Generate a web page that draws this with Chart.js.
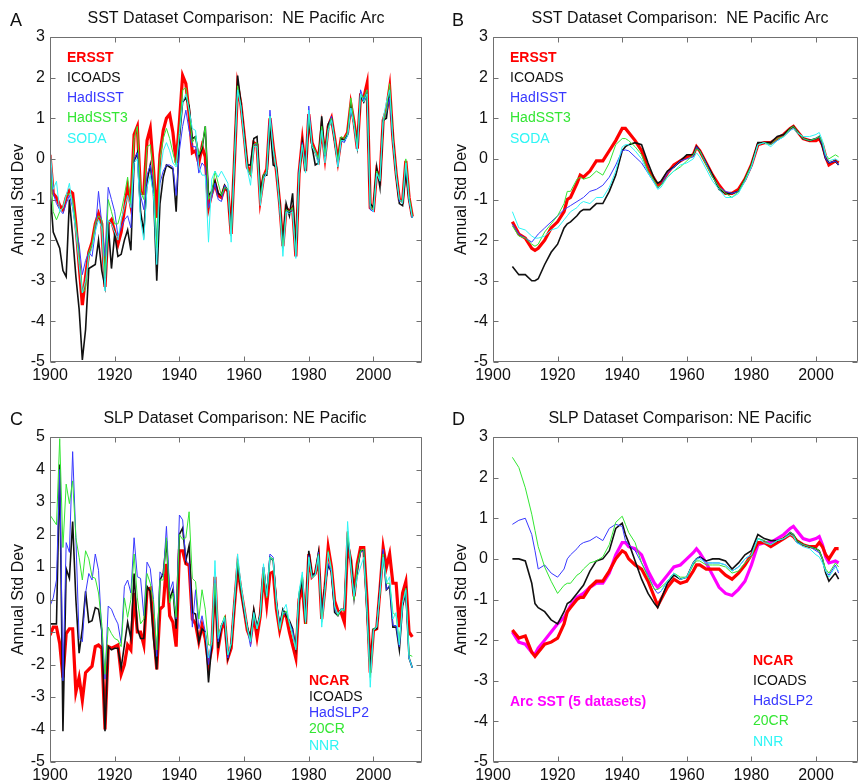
<!DOCTYPE html>
<html>
<head>
<meta charset="utf-8">
<script src="https://cdn.jsdelivr.net/npm/chart.js@4.4.1/dist/chart.umd.min.js"></script>
<style>
  html, body { margin: 0; padding: 0; background: #fff; }
  body { width: 859px; height: 783px; overflow: hidden; position: relative; }
  canvas { position: absolute; }
</style>
</head>
<body>
<canvas id="panelA" width="430" height="390" style="left:0;top:0"></canvas>
<canvas id="panelB" width="429" height="390" style="left:430px;top:0"></canvas>
<canvas id="panelC" width="430" height="393" style="left:0;top:390px"></canvas>
<canvas id="panelD" width="429" height="393" style="left:430px;top:390px"></canvas>
<script>
// tick labels
var xTickYears = [1900, 1920, 1940, 1960, 1980, 2000];

// annual years 1900-2012
var years = [];
for (var yr = 1900; yr <= 2012; yr++) years.push(yr);

// A: annual SST, NE Pacific arc
var ersst = [
  0.1,-0.85,-0.95,-1.15,-1.25,-0.95,-0.78,-0.85,-1.6,-2.6,
  -3.6,-2.9,-2.3,-2.05,-1.6,-1.35,-1.6,-3.15,-1.6,-1.5,
  -1.8,-2.1,-1.8,-1.25,-0.7,-1.15,0.6,0.8,-0.85,-0.85,
  0.45,0.75,-0.25,-1.45,0.1,0.7,1.0,1.1,0.65,-0.1,
  0.9,2.05,1.85,1.1,0.15,0.2,-0.1,0.3,0.05,-1.2,
  -0.85,-0.6,-0.9,-0.95,-0.7,-0.8,-1.85,-0.1,1.8,1.35,
  0.6,-0.2,-0.35,0.4,0.35,-1.0,-0.45,-0.25,1.0,0.3,
  -0.3,-1.1,-2.15,-1.2,-1.3,-1.2,-2.4,-0.35,0.45,-0.3,
  1.1,0.4,0.2,0.0,0.75,0.05,0.8,1.0,0.5,-0.05,
  0.5,0.5,0.65,1.35,0.9,0.25,1.55,1.5,1.85,-1.2,
  -1.25,-0.3,-0.5,0.95,1.2,1.75,0.5,-0.35,-1.0,-1.05,
  -0.05,-0.95,-1.42
];
var icoadsSst = [
  -0.75,-1.8,-2.0,-2.2,-2.75,-2.9,-1.0,-1.9,-2.9,-3.7,
  -4.95,-4.2,-2.7,-2.65,-2.6,-2.0,-2.75,-3.15,-1.6,-2.7,
  -1.85,-2.4,-2.35,-2.0,-1.75,-2.25,-0.05,0.15,-1.3,-1.8,
  -0.55,-0.15,-0.85,-3.0,-1.1,-0.45,-0.15,-0.2,-0.25,-1.3,
  0.5,1.4,1.5,1.3,0.5,0.55,0.05,0.25,0.8,-0.9,
  -0.8,-0.55,-0.85,-0.9,-0.65,-0.8,-1.8,-0.05,2.05,1.4,
  0.6,-0.15,-0.15,0.5,0.55,-0.85,-0.4,-0.4,0.9,-0.15,
  -0.2,-1.1,-2.1,-1.1,-1.4,-0.85,-2.35,-0.4,0.4,-0.3,
  1.05,0.3,-0.15,-0.1,1.05,0.0,0.85,1.0,0.45,-0.1,
  0.5,0.45,0.6,1.3,0.85,0.3,1.55,1.4,1.6,-1.1,
  -1.2,-0.2,-0.7,0.95,1.0,1.7,0.5,-0.4,-1.1,-1.15,
  -0.3,-1.0,-1.45
];
var hadisst = [
  -0.1,-0.85,-1.1,-1.25,-1.35,-1.1,-0.9,-1.2,-1.7,-2.1,
  -2.85,-2.5,-2.3,-2.4,-1.8,-0.8,-1.6,-2.4,-0.7,-1.0,
  -1.3,-1.9,-1.7,-1.5,-1.4,-1.7,0.0,0.15,-0.9,-1.25,
  -0.4,-0.15,-0.7,-2.0,-0.6,-0.3,-0.15,-0.15,-0.2,-0.9,
  0.2,0.8,1.2,0.7,0.3,0.3,-0.35,-0.1,-0.2,-1.2,
  -0.95,-0.6,-1.0,-1.05,-0.65,-0.8,-1.85,-0.05,1.75,1.3,
  0.55,-0.25,-0.4,0.35,0.35,-1.0,-0.5,-0.3,1.2,0.25,
  -0.25,-1.15,-2.2,-1.3,-1.3,-1.25,-2.4,-0.3,0.4,-0.25,
  1.3,0.35,0.2,-0.05,0.75,0.1,0.75,1.05,0.5,-0.15,
  0.45,0.4,0.6,1.25,0.85,0.25,1.7,1.45,1.7,-1.25,
  -1.3,-0.35,-0.5,0.9,1.15,1.5,0.45,-0.35,-1.05,-1.0,
  -0.1,-1.0,-1.45
];
var hadsst3 = [
  -0.1,-1.3,-1.5,-1.3,-1.2,-0.9,-0.85,-1.0,-1.6,-2.4,
  -3.3,-3.2,-2.3,-2.1,-1.6,-1.4,-1.5,-2.9,-1.0,-1.3,
  -1.6,-1.6,-1.3,-0.9,-0.45,-1.1,0.5,0.8,-0.8,-1.0,
  0.3,0.35,-0.3,-2.2,0.0,0.5,0.75,0.5,0.15,-0.15,
  0.7,1.7,1.75,1.2,0.4,0.55,0.1,0.3,0.8,-1.0,
  -0.85,-0.3,-0.6,-0.9,-0.7,-0.75,-1.9,0.0,1.8,1.3,
  0.55,-0.2,-0.4,0.35,0.4,-1.0,-0.4,-0.3,1.05,0.25,
  -0.25,-1.1,-2.2,-1.25,-1.3,-1.2,-2.35,-0.4,0.35,-0.25,
  1.1,0.35,0.2,0.0,0.8,0.1,0.75,1.0,0.5,-0.05,
  0.55,0.5,0.65,1.5,0.9,0.3,1.6,1.5,1.7,-1.15,
  -1.25,-0.3,-0.5,0.9,1.2,1.85,0.5,-0.35,-1.0,-1.05,
  0.0,-0.9,-1.4
];
var soda = [
  0.3,-0.75,-0.55,-1.3,-1.2,-0.9,-0.6,-1.2,-1.8,-2.6,
  -3.3,-3.0,-2.4,-2.2,-1.8,-1.5,-1.7,-3.25,-1.5,-1.6,
  -1.8,-2.0,-1.5,-1.2,-0.9,-1.2,-0.1,0.0,-1.5,-2.0,
  -0.7,-0.4,-0.9,-2.6,-0.4,0.2,0.4,0.2,-0.1,-0.2,
  0.6,1.4,1.6,1.2,0.75,0.7,-0.2,-0.4,-0.4,-2.05,
  -0.5,-0.3,-0.45,-0.3,-0.45,-0.6,-2.05,-0.1,1.7,1.3,
  0.5,-0.25,-0.65,0.3,0.3,-1.15,-0.5,-0.35,1.05,0.2,
  -0.3,-1.2,-2.4,-1.3,-1.35,-1.3,-2.45,-0.35,0.35,-0.35,
  1.2,0.3,0.15,-0.15,0.7,-0.1,0.7,0.95,0.45,-0.2,
  0.45,0.45,0.55,1.25,0.8,0.2,1.6,1.4,1.6,-1.2,
  -1.3,-0.35,-0.55,1.0,1.4,1.7,0.45,-0.4,-1.0,-1.1,
  -0.1,-1.0,-1.45
];

// B and D: smoothed series, read at these years
var smoothYears = [
  1906,1908,1910,1912,1913,1914,1916,1918,1920,1922,
  1923,1924,1926,1927,1928,1930,1932,1934,1936,1938,
  1940,1941,1942,1944,1946,1948,1950,1951,1952,1954,
  1956,1958,1960,1962,1963,1964,1966,1968,1970,1972,
  1974,1976,1978,1980,1982,1984,1986,1988,1990,1992,
  1993,1994,1996,1998,2000,2001,2002,2003,2004,2006,
  2007
];
var ersstSm = [
  -1.55,-1.85,-1.95,-2.2,-2.25,-2.2,-2.0,-1.7,-1.55,-1.3,
  -1.0,-0.95,-0.6,-0.4,-0.45,-0.3,-0.05,-0.05,0.2,0.45,
  0.75,0.75,0.65,0.45,0.2,-0.25,-0.5,-0.65,-0.6,-0.35,
  -0.15,-0.05,0.05,0.1,0.3,0.2,-0.1,-0.4,-0.65,-0.85,
  -0.85,-0.75,-0.5,-0.15,0.35,0.4,0.4,0.5,0.6,0.75,
  0.8,0.7,0.5,0.45,0.45,0.5,0.35,0.05,-0.15,-0.05,
  -0.1
];
var icoadsSstSm = [
  -2.65,-2.85,-2.85,-3.0,-3.0,-2.95,-2.6,-2.3,-2.1,-1.7,
  -1.6,-1.55,-1.4,-1.3,-1.25,-1.25,-1.1,-1.1,-0.8,-0.4,
  0.2,0.3,0.35,0.4,0.35,-0.1,-0.5,-0.6,-0.55,-0.3,
  -0.2,-0.05,0.1,0.1,0.3,0.2,-0.1,-0.4,-0.75,-0.85,
  -0.85,-0.8,-0.5,-0.15,0.4,0.4,0.4,0.55,0.6,0.75,
  0.8,0.7,0.5,0.45,0.5,0.55,0.3,0.0,-0.1,-0.05,
  -0.15
];
var hadisstSm = [
  -1.6,-1.85,-1.95,-2.05,-1.95,-1.85,-1.7,-1.55,-1.4,-1.25,
  -1.2,-1.15,-1.05,-1.0,-0.95,-0.8,-0.75,-0.65,-0.45,-0.15,
  0.2,0.22,0.2,0.05,-0.1,-0.35,-0.6,-0.72,-0.65,-0.35,
  -0.2,-0.05,0.0,0.05,0.3,0.2,-0.1,-0.45,-0.7,-0.8,
  -0.85,-0.8,-0.55,-0.2,0.35,0.4,0.35,0.45,0.55,0.7,
  0.75,0.7,0.5,0.45,0.5,0.55,0.35,0.0,-0.1,-0.05,
  -0.15
];
var hadsst3Sm = [
  -1.65,-1.9,-1.95,-2.1,-2.15,-2.1,-1.8,-1.6,-1.4,-1.1,
  -0.8,-0.8,-0.5,-0.45,-0.5,-0.45,-0.3,-0.4,-0.1,0.35,
  0.5,0.5,0.45,0.3,0.1,-0.3,-0.55,-0.7,-0.65,-0.45,
  -0.3,-0.2,-0.05,0.1,0.25,0.2,-0.15,-0.45,-0.7,-0.85,
  -0.95,-0.8,-0.5,-0.15,0.35,0.4,0.35,0.5,0.55,0.75,
  0.8,0.7,0.5,0.45,0.5,0.55,0.4,0.1,0.0,0.1,
  0.05
];
var sodaSm = [
  -1.3,-1.7,-1.75,-1.9,-1.95,-1.95,-1.9,-1.75,-1.7,-1.5,
  -1.4,-1.3,-1.2,-1.1,-1.05,-1.1,-0.95,-0.95,-0.7,-0.3,
  0.3,0.35,0.35,0.2,0.0,-0.35,-0.6,-0.75,-0.7,-0.45,
  -0.3,-0.15,-0.1,0.0,0.15,0.05,-0.25,-0.55,-0.75,-0.95,
  -0.95,-0.85,-0.55,-0.2,0.35,0.4,0.3,0.45,0.55,0.7,
  0.75,0.65,0.55,0.55,0.6,0.65,0.45,0.1,-0.05,0.0,
  -0.05
];

// C: annual SLP, NE Pacific
var ncar = [
  -1.1,-0.85,-0.85,-1.35,-2.4,-1.05,-0.9,-0.9,-2.85,-2.4,
  -3.1,-2.25,-2.15,-2.05,-1.45,-1.4,-1.5,-4.0,-1.45,-1.5,
  -1.45,-1.4,-2.3,-2.0,-1.4,-1.55,0.2,-1.0,-1.0,-1.4,
  0.3,0.35,-0.9,-2.15,-0.3,-0.2,1.1,-0.5,-0.7,-1.45,
  1.5,1.5,1.1,1.05,-0.6,-0.75,-1.3,-0.8,-1.2,-2.0,
  -1.5,0.7,-1.5,-0.9,-0.65,-1.8,-1.5,-0.2,1.0,0.3,
  -0.3,-0.95,-1.2,-0.5,-1.15,-0.5,0.8,-0.15,0.8,0.85,
  -0.3,-0.95,-0.5,-0.5,-1.0,-1.4,-1.8,0.0,0.4,-0.75,
  1.4,0.7,0.8,1.3,-0.6,0.35,1.6,1.0,-0.05,-0.35,
  -0.4,-0.7,1.7,1.2,0.1,1.1,1.6,1.6,0.0,-2.25,
  -0.95,-0.9,0.3,1.6,1.0,1.4,0.5,0.5,-0.85,0.2,
  0.55,-1.0,-1.15
];
var icoadsSlp = [
  -0.75,-0.75,-0.75,4.15,-4.05,0.95,0.65,2.4,0.0,-1.65,
  -0.9,0.25,-0.7,-0.65,-0.25,-0.3,-0.95,-4.05,-1.45,-1.55,
  -1.5,-1.5,-2.1,-1.4,-0.7,-1.2,0.8,-0.9,-1.2,-1.2,
  0.4,0.25,-1.2,-2.15,0.6,0.8,1.8,0.0,0.3,-0.9,
  2.0,2.2,1.2,1.65,-0.4,-0.45,-1.3,-0.9,-1.0,-2.55,
  -1.4,0.4,-1.5,-0.8,-0.6,-1.8,-1.4,-0.15,1.1,0.35,
  -0.35,-0.85,-1.2,-0.3,-0.85,-0.45,1.0,0.1,1.3,1.2,
  -0.1,-0.8,-0.3,-0.5,-0.65,-0.9,-1.5,0.1,0.6,-0.7,
  1.5,0.75,0.8,1.45,-0.6,0.45,1.05,0.85,-0.4,-0.5,
  -0.3,-0.3,1.9,1.2,0.05,0.9,1.5,1.5,-0.4,-2.2,
  -0.9,-0.9,0.3,1.5,0.3,0.4,-0.85,-0.85,-1.55,-0.2,
  0.25,-1.8,-2.1
];
var hadslp2 = [
  -0.2,0.05,0.6,4.0,-2.5,1.75,1.45,4.55,1.9,-1.2,
  -1.3,0.2,0.8,0.6,1.4,0.9,-1.0,-2.45,-0.2,-0.3,
  -0.55,-0.75,-1.35,0.4,0.6,0.2,1.9,0.7,0.65,-0.5,
  1.15,0.95,0.0,-1.75,0.85,0.7,2.25,0.25,0.55,-0.6,
  2.6,2.45,1.2,1.1,-0.85,0.3,-0.9,-0.5,-1.0,-2.0,
  -1.3,0.6,-1.3,-0.8,-0.6,-1.8,-1.35,-0.1,1.2,0.4,
  -0.3,-0.9,-1.45,-0.5,-0.9,-0.5,1.0,0.1,1.4,1.3,
  -0.1,-0.8,-0.45,-0.4,-0.7,-0.95,-1.5,0.2,0.7,-0.7,
  1.35,0.7,0.8,1.45,-0.6,0.35,1.1,0.85,-0.3,-0.5,
  -0.3,-0.35,2.1,1.0,0.05,0.95,1.45,1.5,-0.3,-2.3,
  -0.9,-0.85,0.3,1.55,0.3,0.45,-0.8,-0.8,-1.45,-0.15,
  0.3,-1.8,-2.1
];
var cr20 = [
  2.6,2.45,2.3,4.95,1.6,3.55,2.95,3.65,1.9,1.3,
  0.6,1.5,1.25,0.7,0.65,0.2,-0.75,-2.3,-0.85,-1.05,
  -1.2,-1.25,-1.45,0.05,-0.55,0.0,1.4,0.05,-0.75,-0.6,
  0.8,0.5,-0.1,-1.55,0.6,0.6,1.9,-0.1,0.2,-0.55,
  2.0,1.85,1.9,2.7,0.65,0.55,-0.6,0.3,-0.3,-1.4,
  -1.4,0.5,-1.1,-0.8,-0.5,-1.7,-1.4,-0.1,1.2,0.4,
  -0.25,-0.9,-1.3,-0.45,-0.9,-0.55,0.9,0.05,1.3,1.25,
  -0.15,-0.95,-0.45,-0.35,-0.75,-1.1,-1.5,0.2,0.75,-0.75,
  1.3,0.7,0.75,1.4,-0.7,0.3,1.5,0.95,-0.2,-0.5,
  -0.3,-0.35,2.1,1.1,0.0,1.0,1.5,1.55,-0.3,-2.4,
  -0.9,-0.85,0.2,1.4,0.5,0.5,-0.4,-0.5,-1.3,-0.1,
  0.35,-1.7,-1.75
];
var nnrYears = years.filter(function (y) { return y >= 1948; });
var nnr = [
  -1.0,-1.8,
  -1.3,1.2,-1.2,-0.8,-0.55,-1.7,-1.35,-0.05,1.4,0.5,
  -0.2,-0.85,-1.3,-0.4,-0.9,-0.45,1.1,0.1,1.3,1.2,
  -0.1,-0.9,-0.35,-0.15,-0.7,-1.1,-1.55,0.25,0.85,-0.7,
  1.3,0.65,0.75,1.35,-0.85,0.3,1.45,0.9,-0.2,-0.45,
  -0.3,-0.3,2.4,1.0,0.1,0.7,1.0,1.3,-0.4,-2.7,
  -0.95,-0.85,0.2,1.3,0.5,0.7,-0.6,-0.4,-1.4,-0.1,
  0.3,-1.8,-2.1
];

// D: smoothed SLP plus arc SST mean
var ncarSm = [
  -1.75,-1.95,-1.9,-2.3,-2.4,-2.3,-2.1,-2.05,-1.95,-1.6,
  -1.3,-1.2,-1.0,-0.95,-0.95,-0.7,-0.55,-0.55,-0.3,0.0,
  0.2,0.15,0.0,-0.15,-0.25,-0.55,-0.95,-1.15,-1.0,-0.7,
  -0.5,-0.6,-0.55,-0.3,-0.15,-0.15,-0.25,-0.25,-0.25,-0.4,
  -0.5,-0.35,-0.15,0.1,0.4,0.4,0.3,0.4,0.5,0.6,
  0.55,0.45,0.35,0.3,0.3,0.4,0.3,0.1,0.0,0.25,
  0.25
];
var icoadsSlpSm = [
  0.0,0.0,-0.05,-0.6,-1.1,-1.2,-1.3,-1.5,-1.6,-1.3,
  -1.1,-1.05,-0.85,-0.75,-0.65,-0.3,-0.05,0.0,0.2,0.75,
  0.88,0.6,0.4,-0.05,-0.5,-0.85,-1.1,-1.2,-1.0,-0.6,
  -0.4,-0.5,-0.45,-0.1,0.0,0.05,-0.05,0.0,0.0,-0.05,
  -0.25,-0.1,0.1,0.2,0.6,0.5,0.45,0.45,0.5,0.65,
  0.6,0.45,0.35,0.3,0.25,0.2,0.0,-0.35,-0.55,-0.35,
  -0.5
];
var hadslp2Sm = [
  0.85,0.95,1.0,0.6,0.2,-0.25,-0.15,-0.35,-0.45,-0.25,
  0.0,0.1,0.25,0.35,0.4,0.45,0.55,0.45,0.75,0.85,
  0.8,0.45,0.35,0.2,-0.1,-0.4,-0.75,-0.85,-0.8,-0.55,
  -0.35,-0.5,-0.45,-0.1,0.0,0.05,-0.1,-0.1,-0.1,-0.15,
  -0.3,-0.2,0.0,0.1,0.5,0.45,0.35,0.45,0.5,0.65,
  0.6,0.4,0.35,0.3,0.2,0.15,0.0,-0.3,-0.4,-0.15,
  -0.35
];
var cr20Sm = [
  2.5,2.25,1.75,1.1,0.7,0.3,-0.2,-0.55,-0.85,-0.65,
  -0.6,-0.6,-0.4,-0.35,-0.25,-0.1,-0.05,0.05,0.35,0.9,
  1.05,0.85,0.65,0.4,-0.1,-0.45,-0.75,-0.75,-0.7,-0.55,
  -0.35,-0.45,-0.45,-0.15,-0.05,-0.05,-0.15,-0.15,-0.15,-0.2,
  -0.35,-0.3,-0.1,0.05,0.5,0.45,0.35,0.45,0.5,0.65,
  0.6,0.45,0.35,0.3,0.25,0.2,0.0,-0.25,-0.35,-0.1,
  -0.2
];
var nnrSmYears = smoothYears.filter(function (y) { return y >= 1952; });
var nnrSm = [
  -0.8,-0.55,-0.35,-0.5,-0.45,-0.1,0.0,0.0,-0.1,-0.1,
  -0.1,-0.15,-0.3,-0.2,0.0,0.1,0.5,0.4,0.35,0.45,
  0.5,0.6,0.55,0.4,0.3,0.25,0.1,0.05,-0.1,-0.3,
  -0.45,-0.2,-0.3
];
var arcSstSm = [
  -1.8,-2.05,-2.1,-2.3,-2.35,-2.2,-2.0,-1.8,-1.6,-1.45,
  -1.3,-1.15,-0.95,-0.9,-0.85,-0.7,-0.6,-0.6,-0.35,0.1,
  0.4,0.4,0.3,0.25,0.1,-0.3,-0.6,-0.7,-0.6,-0.4,
  -0.2,-0.15,0.0,0.15,0.25,0.15,-0.1,-0.4,-0.7,-0.85,
  -0.9,-0.75,-0.55,-0.15,0.35,0.4,0.4,0.5,0.6,0.75,
  0.8,0.7,0.5,0.45,0.5,0.55,0.35,0.05,-0.1,-0.05,
  -0.1
];

var RED = '#ff0000', BLACK = '#111111', BLUE = '#3838ff', GREEN = '#33e633',
    CYAN = '#2ff5f5', MAGENTA = '#ff00ff';
var FONT = '"Liberation Sans", Arial, Helvetica, sans-serif';

Chart.defaults.font.family = FONT;
Chart.defaults.color = '#111';

function line(label, xs, ys, color, width) {
    return {
        label: label,
        data: xs.map(function (x, i) { return { x: x, y: ys[i] }; }),
        borderColor: color,
        borderWidth: width,
        pointRadius: 0,
        tension: 0,
        fill: false
    };
}

// inward ticks on all four sides plus the frame
var axesBox = {
    id: 'axesBox',
    afterDatasetsDraw: function (chart) {
        var a = chart.chartArea, ctx = chart.ctx;
        var xs = chart.scales.x, ys = chart.scales.y;
        var L = Math.round(a.left) + 0.5, R = Math.round(a.right) - 0.5;
        var T = Math.round(a.top) + 0.5, B = Math.round(a.bottom) - 0.5;
        ctx.save();
        ctx.strokeStyle = '#707070';
        ctx.lineWidth = 1;
        ctx.beginPath();
        ctx.rect(L, T, R - L, B - T);
        xs.ticks.forEach(function (t) {
            var p = Math.round(xs.getPixelForValue(t.value)) + 0.5;
            ctx.moveTo(p, B); ctx.lineTo(p, B - 5);
            ctx.moveTo(p, T); ctx.lineTo(p, T + 5);
        });
        ys.ticks.forEach(function (t) {
            var p = Math.round(ys.getPixelForValue(t.value)) + 0.5;
            ctx.moveTo(L, p); ctx.lineTo(L + 5, p);
            ctx.moveTo(R, p); ctx.lineTo(R - 5, p);
        });
        ctx.stroke();
        ctx.restore();
    }
};

function panelText(cfg) {
    return {
        id: 'panelText',
        afterDraw: function (chart) {
            var ctx = chart.ctx;
            ctx.save();
            ctx.textBaseline = 'middle';
            ctx.fillStyle = '#111';
            ctx.textAlign = 'left';
            ctx.font = '18px ' + FONT;
            ctx.fillText(cfg.letter, cfg.letterX, cfg.letterY);
            ctx.textAlign = 'center';
            ctx.font = '16px ' + FONT;
            ctx.fillText(cfg.title, cfg.titleX, cfg.titleY);
            ctx.textAlign = 'left';
            cfg.legend.forEach(function (item, i) {
                ctx.font = (item.bold ? 'bold ' : '') + '14px ' + FONT;
                ctx.fillStyle = item.color;
                ctx.fillText(item.text, cfg.legendX, cfg.legendY + i * cfg.legendStep);
            });
            (cfg.extra || []).forEach(function (item) {
                ctx.font = (item.bold ? 'bold ' : '') + '14px ' + FONT;
                ctx.fillStyle = item.color;
                ctx.fillText(item.text, item.x, item.y);
            });
            ctx.restore();
        }
    };
}

function makePanel(id, datasets, opt) {
    return new Chart(document.getElementById(id), {
        type: 'line',
        data: { datasets: datasets },
        options: {
            responsive: false,
            animation: false,
            events: [],
            layout: { padding: { top: opt.top, right: opt.right, left: 0, bottom: 0 } },
            plugins: { legend: { display: false }, tooltip: { enabled: false } },
            scales: {
                x: {
                    type: 'linear',
                    min: 1900,
                    max: opt.xMax,
                    afterBuildTicks: function (s) {
                        s.ticks = xTickYears.map(function (v) { return { value: v }; });
                    },
                    afterFit: function (s) { s.height = opt.xHeight; },
                    grid: { display: false, drawTicks: false },
                    border: { display: false },
                    ticks: {
                        stepSize: 20, padding: 4, maxRotation: 0, autoSkip: false,
                        font: { size: 16 }, color: '#111',
                        callback: function (v) { return String(v); }
                    }
                },
                y: {
                    min: opt.yMin,
                    max: opt.yMax,
                    afterFit: function (s) { s.width = opt.yWidth; },
                    grid: { display: false, drawTicks: false },
                    border: { display: false },
                    title: {
                        display: true, text: 'Annual Std Dev', color: '#111',
                        font: { size: 16 }, padding: { top: opt.titlePad, bottom: 0 }
                    },
                    ticks: {
                        stepSize: 1, padding: 5, font: { size: 16 }, color: '#111',
                        callback: function (v) { return String(v); }
                    }
                }
            }
        },
        plugins: [axesBox, panelText(opt.text)]
    });
}

// datasets listed top-most first (Chart.js draws index 0 last)
makePanel('panelA', [
    line('SODA', years, soda, CYAN, 1),
    line('HadSST3', years, hadsst3, GREEN, 1),
    line('HadISST', years, hadisst, BLUE, 1),
    line('ICOADS', years, icoadsSst, BLACK, 1.6),
    line('ERSST', years, ersst, RED, 3.2)
], {
    top: 37, right: 8, xMax: 2015, yMin: -5, yMax: 3, xHeight: 28, yWidth: 50, titlePad: 9,
    text: {
        letter: 'A', letterX: 10, letterY: 21,
        title: 'SST Dataset Comparison:  NE Pacific Arc', titleX: 236, titleY: 19,
        legendX: 67, legendY: 58, legendStep: 20.2,
        legend: [
            { text: 'ERSST', color: RED, bold: true },
            { text: 'ICOADS', color: BLACK },
            { text: 'HadISST', color: BLUE },
            { text: 'HadSST3', color: GREEN },
            { text: 'SODA', color: CYAN }
        ]
    }
});

makePanel('panelB', [
    line('SODA', smoothYears, sodaSm, CYAN, 1),
    line('HadSST3', smoothYears, hadsst3Sm, GREEN, 1),
    line('HadISST', smoothYears, hadisstSm, BLUE, 1),
    line('ICOADS', smoothYears, icoadsSstSm, BLACK, 1.6),
    line('ERSST', smoothYears, ersstSm, RED, 3.2)
], {
    top: 37, right: 1, xMax: 2013, yMin: -5, yMax: 3, xHeight: 28, yWidth: 63, titlePad: 22,
    text: {
        letter: 'B', letterX: 22, letterY: 21,
        title: 'SST Dataset Comparison:  NE Pacific Arc', titleX: 250, titleY: 19,
        legendX: 80, legendY: 58, legendStep: 20.2,
        legend: [
            { text: 'ERSST', color: RED, bold: true },
            { text: 'ICOADS', color: BLACK },
            { text: 'HadISST', color: BLUE },
            { text: 'HadSST3', color: GREEN },
            { text: 'SODA', color: CYAN }
        ]
    }
});

makePanel('panelC', [
    line('NNR', nnrYears, nnr, CYAN, 1),
    line('20CR', years, cr20, GREEN, 1),
    line('HadSLP2', years, hadslp2, BLUE, 1),
    line('ICOADS', years, icoadsSlp, BLACK, 1.6),
    line('NCAR', years, ncar, RED, 3.2)
], {
    top: 47, right: 8, xMax: 2015, yMin: -5, yMax: 5, xHeight: 21, yWidth: 50, titlePad: 9,
    text: {
        letter: 'C', letterX: 10, letterY: 30,
        title: 'SLP Dataset Comparison: NE Pacific', titleX: 235, titleY: 29,
        legendX: 309, legendY: 291, legendStep: 16.2,
        legend: [
            { text: 'NCAR', color: RED, bold: true },
            { text: 'ICOADS', color: BLACK },
            { text: 'HadSLP2', color: BLUE },
            { text: '20CR', color: GREEN },
            { text: 'NNR', color: CYAN }
        ]
    }
});

makePanel('panelD', [
    line('NNR', nnrSmYears, nnrSm, CYAN, 1),
    line('20CR', smoothYears, cr20Sm, GREEN, 1),
    line('HadSLP2', smoothYears, hadslp2Sm, BLUE, 1),
    line('ICOADS', smoothYears, icoadsSlpSm, BLACK, 1.6),
    line('NCAR', smoothYears, ncarSm, RED, 3.2),
    line('Arc SST (5 datasets)', smoothYears, arcSstSm, MAGENTA, 3.2)
], {
    top: 47, right: 1, xMax: 2013, yMin: -5, yMax: 3, xHeight: 21, yWidth: 63, titlePad: 22,
    text: {
        letter: 'D', letterX: 22, letterY: 30,
        title: 'SLP Dataset Comparison: NE Pacific', titleX: 250, titleY: 29,
        legendX: 323, legendY: 271, legendStep: 20.2,
        legend: [
            { text: 'NCAR', color: RED, bold: true },
            { text: 'ICOADS', color: BLACK },
            { text: 'HadSLP2', color: BLUE },
            { text: '20CR', color: GREEN },
            { text: 'NNR', color: CYAN }
        ],
        extra: [
            { text: 'Arc SST (5 datasets)', color: MAGENTA, bold: true, x: 80, y: 312 }
        ]
    }
});
</script>
</body>
</html>
